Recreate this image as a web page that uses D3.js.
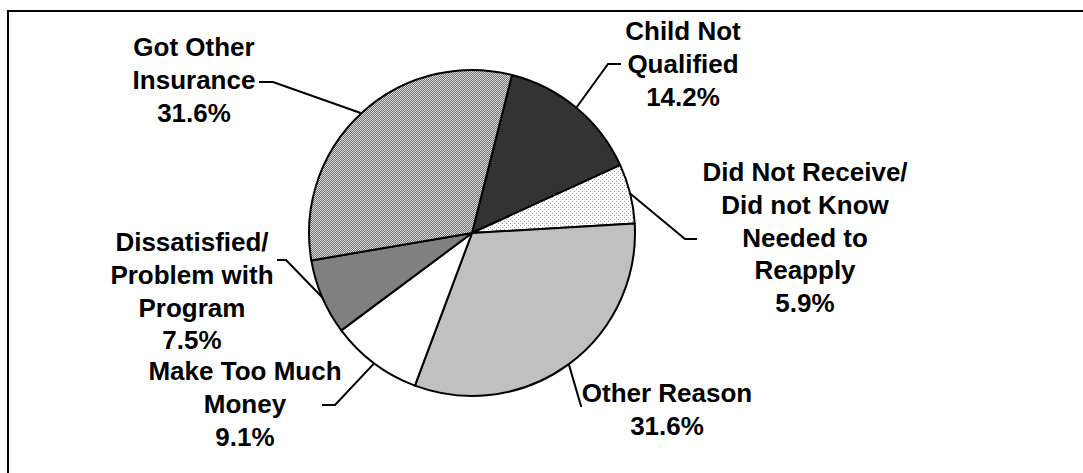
<!DOCTYPE html>
<html>
<head>
<meta charset="utf-8">
<script src="https://cdn.jsdelivr.net/npm/d3@7/dist/d3.min.js"></script>
<style>
  html, body { margin: 0; padding: 0; background: #fff; }
  svg { display: block; }
  text { font-family: "Liberation Sans", Arial, sans-serif; font-weight: bold; font-size: 26px; fill: #000; }
</style>
</head>
<body>
<svg id="chart" width="1083" height="473"></svg>
<script>
// ---- data ----
const categories = ["Child Not Qualified", "Did Not Receive/Did not Know Needed to Reapply", "Other Reason", "Make Too Much Money", "Dissatisfied/Problem with Program", "Got Other Insurance"];
const labelLines = [
  ["Child Not", "Qualified"],
  ["Did Not Receive/", "Did not Know", "Needed to", "Reapply"],
  ["Other Reason"],
  ["Make Too Much", "Money"],
  ["Dissatisfied/", "Problem with", "Program"],
  ["Got Other", "Insurance"]
];
const values = [14.2, 5.9, 31.6, 9.1, 7.5, 31.6];
const valueLabels = ["14.2%", "5.9%", "31.6%", "9.1%", "7.5%", "31.6%"];

// ---- layout ----
const W = 1083, H = 473;
const cx = 472, cy = 233, R = 163;
const startDeg = 14.2;
const lineH = 32.8;
// label anchor: center x, first baseline y; leader: elbow point and end point
const labelPos = [
  { x: 683, y: 40 },
  { x: 805, y: 181 },
  { x: 667, y: 402 },
  { x: 245, y: 380 },
  { x: 192, y: 251 },
  { x: 194, y: 56 }
];
const leaders = [
  { elbow: [608, 64], end: [621, 64] },
  { elbow: [685, 239], end: [697, 239] },
  { elbow: [581, 406], end: [582, 406] },
  { elbow: [335, 405], end: [322, 405] },
  { elbow: [286, 260], end: [277, 260] },
  { elbow: [273, 82], end: [259, 82] }
];

const svg = d3.select("#chart");
const defs = svg.append("defs");

// checker pattern (Got Other Insurance)
const p1 = defs.append("pattern").attr("id", "checker").attr("patternUnits", "userSpaceOnUse")
  .attr("width", 2).attr("height", 2);
p1.append("rect").attr("width", 2).attr("height", 2).attr("fill", "#e2e2e2");
p1.append("rect").attr("x", 0).attr("y", 0).attr("width", 1).attr("height", 1).attr("fill", "#6a6a6a");
p1.append("rect").attr("x", 1).attr("y", 1).attr("width", 1).attr("height", 1).attr("fill", "#6a6a6a");

// dotted pattern (Did Not Receive)
const p2 = defs.append("pattern").attr("id", "dots").attr("patternUnits", "userSpaceOnUse")
  .attr("width", 4).attr("height", 4);
p2.append("rect").attr("width", 4).attr("height", 4).attr("fill", "#ffffff");
p2.append("rect").attr("x", 0).attr("y", 0).attr("width", 1).attr("height", 1).attr("fill", "#9a9a9a");
p2.append("rect").attr("x", 2).attr("y", 2).attr("width", 1).attr("height", 1).attr("fill", "#9a9a9a");

const fills = ["#333333", "url(#dots)", "#c0c0c0", "#ffffff", "#808080", "url(#checker)"];

// outer frame
svg.append("rect").attr("x", 8).attr("y", 11).attr("width", 1200).attr("height", 600)
  .attr("fill", "none").attr("stroke", "#000").attr("stroke-width", 2);

const pie = d3.pie().sort(null).value(d => d)
  .startAngle(startDeg * Math.PI / 180)
  .endAngle(startDeg * Math.PI / 180 + 2 * Math.PI);
const arcs = pie(values);
const arc = d3.arc().innerRadius(0).outerRadius(R);

const g = svg.append("g").attr("transform", `translate(${cx},${cy})`);
g.selectAll("path.slice").data(arcs).enter().append("path")
  .attr("class", "slice")
  .attr("d", arc)
  .attr("fill", (d, i) => fills[i])
  .attr("stroke", "#000").attr("stroke-width", 2).attr("stroke-linejoin", "round");

// leader lines
arcs.forEach((a, i) => {
  const mid = (a.startAngle + a.endAngle) / 2;
  const sx = cx + R * Math.sin(mid), sy = cy - R * Math.cos(mid);
  const L = leaders[i];
  svg.append("polyline")
    .attr("points", [[sx, sy], L.elbow, L.end].map(p => p.join(",")).join(" "))
    .attr("fill", "none").attr("stroke", "#000").attr("stroke-width", 2);
});

// labels
arcs.forEach((a, i) => {
  const lines = labelLines[i].concat([valueLabels[i]]);
  const t = svg.append("text").attr("text-anchor", "middle");
  lines.forEach((ln, k) => {
    t.append("tspan").attr("x", labelPos[i].x).attr("y", labelPos[i].y + k * lineH).text(ln);
  });
});
</script>
</body>
</html>
